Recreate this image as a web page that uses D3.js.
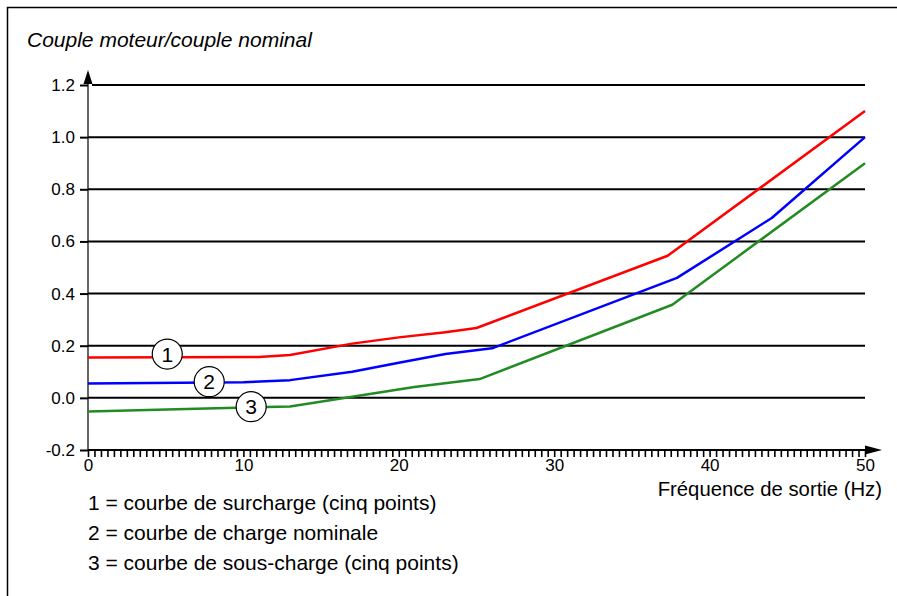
<!DOCTYPE html>
<html>
<head>
<meta charset="utf-8">
<script src="https://cdn.jsdelivr.net/npm/d3@7"></script>
<style>
  body { margin: 0; background: #fff; }
  svg { display: block; font-family: "Liberation Sans", Arial, sans-serif; }
</style>
</head>
<body>
<div id="chart"></div>
<script>
// x = output frequency (Hz), y = motor torque / nominal torque
let overloadX  = [0, 11, 13, 17, 20, 23, 25, 37.3, 50];
let overloadY  = [0.155, 0.157, 0.164, 0.208, 0.232, 0.252, 0.268, 0.545, 1.10];
let nominalX   = [0, 10, 13, 17, 20, 23, 26, 37.9, 44, 50];
let nominalY   = [0.055, 0.06, 0.068, 0.10, 0.135, 0.168, 0.19, 0.46, 0.69, 1.0];
let underloadX = [0, 13, 17, 21, 25.2, 37.6, 50];
let underloadY = [-0.052, -0.033, 0.004, 0.042, 0.072, 0.357, 0.9];

let yTicks = [-0.2, 0.0, 0.2, 0.4, 0.6, 0.8, 1.0, 1.2];
let xTicks = [0, 10, 20, 30, 40, 50];
let minorStep = 50 / 120;

let markerLabels = ["1", "2", "3"];
let markerX = [5.1, 7.8, 10.5];
let markerY = [0.168, 0.062, -0.034];

let legendLines = [
  "1 = courbe de surcharge (cinq points)",
  "2 = courbe de charge nominale",
  "3 = courbe de sous-charge (cinq points)"
];
let seriesColors = ["#ff0000", "#0000ff", "#228b22"];

let width = 897, height = 596;
let padL = 88, padR = 865, padT = 85, padB = 450;

let svg = d3.select("#chart").append("svg")
  .attr("width", width).attr("height", height);

// frame
svg.append("path")
  .attr("d", "M7.5," + height + " L7.5,7.5 L" + width + ",7.5")
  .attr("fill", "none").attr("stroke", "#000").attr("stroke-width", 1.5);

let x = d3.scaleLinear().domain([0, 50]).range([padL, padR]);
let y = d3.scaleLinear().domain([-0.2, 1.2]).range([padB, padT]);

svg.append("text").text("Couple moteur/couple nominal")
  .attr("x", 27).attr("y", 47)
  .attr("font-size", 21).attr("font-style", "italic");

// grid lines
svg.selectAll("line.grid")
  .data(yTicks.filter(d => d > -0.2))
  .enter().append("line")
  .attr("class", "grid")
  .attr("x1", d => d === 1.2 ? padL + 4 : padL)
  .attr("x2", padR)
  .attr("y1", d => y(d)).attr("y2", d => y(d))
  .attr("stroke", "#000").attr("stroke-width", 2);

// y axis
let yAxis = d3.axisLeft(y).tickValues(yTicks).tickSize(8).tickPadding(5)
  .tickFormat(d => d.toFixed(1));
let gy = svg.append("g").attr("transform", "translate(" + padL + ",0)").call(yAxis);
gy.select(".domain").remove();
gy.selectAll(".tick line").attr("stroke-width", 2);
gy.selectAll(".tick text").attr("font-size", 17).attr("font-family", "Liberation Sans, Arial, sans-serif");
svg.append("line")
  .attr("x1", padL).attr("x2", padL).attr("y1", padB).attr("y2", padT - 2)
  .attr("stroke", "#000").attr("stroke-width", 1.2);
svg.append("path")
  .attr("d", "M" + padL + "," + (padT - 15) + " L" + (padL - 4.5) + "," + (padT - 1) + " L" + (padL + 4.5) + "," + (padT - 1) + "Z")
  .attr("fill", "#000");

// x axis
let minorTicks = d3.range(0, 50 + 1e-6, minorStep);
let gxMinor = svg.append("g").attr("transform", "translate(0," + padB + ")")
  .call(d3.axisBottom(x).tickValues(minorTicks).tickSize(7).tickFormat(""));
gxMinor.select(".domain").remove();
gxMinor.selectAll(".tick line").attr("stroke-width", 1.6);

let gx = svg.append("g").attr("transform", "translate(0," + padB + ")")
  .call(d3.axisBottom(x).tickValues(xTicks).tickSize(0).tickPadding(9).tickFormat(d3.format("d")));
gx.select(".domain").remove();
gx.selectAll(".tick text").attr("font-size", 17).attr("font-family", "Liberation Sans, Arial, sans-serif");

svg.append("line")
  .attr("x1", padL).attr("x2", padR + 4).attr("y1", padB).attr("y2", padB)
  .attr("stroke", "#000").attr("stroke-width", 2);
svg.append("path")
  .attr("d", "M" + (padR + 17) + "," + padB + " L" + padR + "," + (padB - 4.5) + " L" + padR + "," + (padB + 4.5) + "Z")
  .attr("fill", "#000");

svg.append("text").text("Fréquence de sortie (Hz)")
  .attr("x", 882).attr("y", 496).attr("text-anchor", "end").attr("font-size", 20.3);

// curves
let series = [
  overloadX.map((v, i) => [v, overloadY[i]]),
  nominalX.map((v, i) => [v, nominalY[i]]),
  underloadX.map((v, i) => [v, underloadY[i]])
];
let line = d3.line().x(d => x(d[0])).y(d => y(d[1]));
svg.selectAll("path.curve")
  .data(series).enter().append("path")
  .attr("class", "curve")
  .attr("d", line)
  .attr("fill", "none")
  .attr("stroke", (d, i) => seriesColors[i])
  .attr("stroke-width", 2.5)
  .attr("stroke-linejoin", "round");

// numbered markers
let markers = svg.selectAll("g.marker")
  .data(markerLabels).enter().append("g")
  .attr("class", "marker")
  .attr("transform", (d, i) => "translate(" + x(markerX[i]) + "," + y(markerY[i]) + ")");
markers.append("circle").attr("r", 15).attr("fill", "#fff").attr("stroke", "#000").attr("stroke-width", 1.2);
markers.append("text").text(d => d)
  .attr("text-anchor", "middle").attr("dy", "0.36em").attr("font-size", 21);

// legend
svg.selectAll("text.legend")
  .data(legendLines).enter().append("text")
  .attr("class", "legend")
  .attr("x", 88).attr("y", (d, i) => 510 + i * 30)
  .attr("font-size", 21)
  .text(d => d);
</script>
</body>
</html>
